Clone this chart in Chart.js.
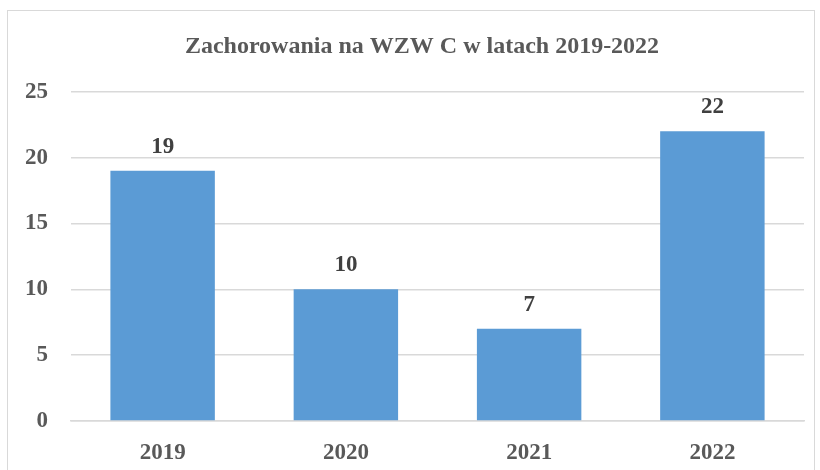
<!DOCTYPE html>
<html>
<head>
<meta charset="utf-8">
<script src="https://cdn.jsdelivr.net/npm/chart.js@4"></script>
<style>
  body { margin: 0; background: #fff; }
  #frame {
    position: absolute; left: 7px; top: 10px;
    width: 806px; height: 480px;
    border: 1.5px solid #d9d9d9;
  }
  #wrap { position: absolute; left: 0; top: 0; width: 820px; height: 470px; }
</style>
</head>
<body>
<div id="frame"></div>
<div id="wrap"><canvas id="chart"></canvas></div>
<script>
// Data
const years = ['2019', '2020', '2021', '2022'];
const cases = [19, 10, 7, 22];
const yTicks = [0, 5, 10, 15, 20, 25];

const serif = '"Liberation Serif", "Times New Roman", serif';

// Value labels over the bars
const valueLabels = {
  id: 'valueLabels',
  afterDatasetsDraw(chart) {
    const ctx = chart.ctx;
    const meta = chart.getDatasetMeta(0);
    ctx.save();
    ctx.font = 'bold 23px ' + serif;
    ctx.fillStyle = '#404040';
    ctx.textAlign = 'center';
    ctx.textBaseline = 'middle';
    meta.data.forEach((bar, i) => {
      ctx.fillText(cases[i], bar.x, bar.y - 24);
    });
    ctx.restore();
  }
};

// Title sits a bit right of the canvas centre, like the original
const shiftTitle = {
  id: 'shiftTitle',
  afterLayout(chart) {
    if (chart.titleBlock) chart.titleBlock.left += 40;
  }
};

const ctx = document.getElementById('chart').getContext('2d');
new Chart(ctx, {
  type: 'bar',
  data: {
    labels: years,
    datasets: [{
      data: cases,
      backgroundColor: '#5b9bd5',
      barPercentage: 0.57,
      categoryPercentage: 1.0
    }]
  },
  options: {
    responsive: true,
    maintainAspectRatio: false,
    animation: false,
    layout: { padding: { left: 0, right: 16, top: 0, bottom: 0 } },
    plugins: {
      legend: { display: false },
      tooltip: { enabled: false },
      title: {
        display: true,
        text: 'Zachorowania na WZW C w latach 2019-2022',
        color: '#595959',
        font: { family: serif, size: 24, weight: 'bold' },
        padding: { top: 32, bottom: 31 }
      }
    },
    scales: {
      x: {
        grid: { display: false },
        border: { display: true, color: '#d9d9d9', width: 1.5 },
        ticks: {
          color: '#595959',
          font: { family: serif, size: 23, weight: 'bold' },
          padding: 10
        },
        afterFit(axis) { axis.height = 49; }
      },
      y: {
        min: 0,
        max: 25,
        afterBuildTicks(axis) { axis.ticks = yTicks.map(v => ({ value: v })); },
        grid: { color: '#d9d9d9', lineWidth: 1.5, drawTicks: false },
        border: { display: false },
        ticks: {
          color: '#595959',
          font: { family: serif, size: 23, weight: 'bold' },
          padding: 23
        },
        afterFit(axis) { axis.width = 71; }
      }
    }
  },
  plugins: [valueLabels, shiftTitle]
});
</script>
</body>
</html>
